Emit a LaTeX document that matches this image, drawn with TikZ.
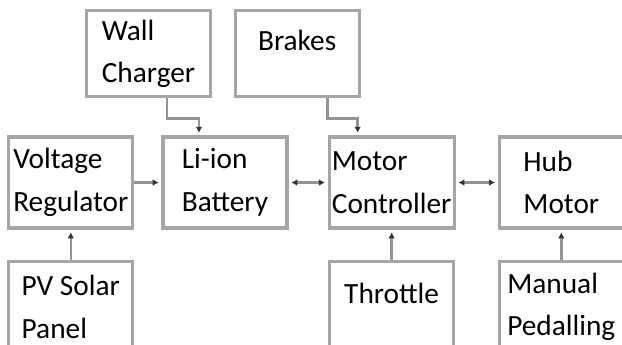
\documentclass[tikz,border=0pt]{standalone}
\usepackage{fontspec}
\setmainfont{Carlito}
\usetikzlibrary{arrows.meta, positioning}

\begin{document}
\begin{tikzpicture}[
  node distance=22.5pt and 29.25pt,
  box/.style={rectangle, draw=black!35, line width=2.4pt, fill=white,
             minimum width=93pt, minimum height=68.25pt, align=left,
             inner sep=2pt, font=\fontsize{22}{32}\selectfont},
  topbox/.style={box, minimum height=64.5pt},
  arrow/.style={-{Latex[length=4.5pt, width=5pt, color=black!80]},
               line width=1.9pt, color=black!42, shorten >=2pt},
  dblarrow/.style={arrow, {Latex[length=4.5pt, width=5pt, color=black!80]}-{Latex[length=4.5pt, width=5pt, color=black!80]},
                  shorten <=2pt}
]
\useasboundingbox (0,0) rectangle (466.5pt,-258pt);

\node[box] (battery) at (168.75pt,-136.9pt) {Li-ion\\Battery};
\node[box, left=20.25pt of battery] (regulator) {Voltage\\Regulator};
\node[box, right=of battery] (controller) {Motor\\Controller};
\node[box, right=31.5pt of controller] (hub) {Hub\\Motor};
\node[box, below=of regulator] (solar) {PV Solar\\Panel};
\node[box, below=of controller, text depth=20pt] (throttle) {Throttle};
\node[box, below=of hub] (pedal) {Manual\\Pedalling};
\node[topbox, above=27.75pt of battery, xshift=-57.4pt] (charger) {Wall\\Charger};
\node[topbox, above=27.75pt of controller, xshift=-70.9pt, text depth=20pt] (brakes) {Brakes};

\draw[arrow] ([xshift=13.9pt]charger.south) -- ++(0,-15pt) -| ([xshift=-19.5pt]battery.north);
\draw[arrow] ([xshift=22.9pt]brakes.south) -- ++(0,-15pt) -| ([xshift=-25.5pt]controller.north);
\draw[arrow] (regulator) -- (battery);
\draw[dblarrow] (battery) -- (controller);
\draw[dblarrow] (controller) -- (hub);
\draw[arrow] (solar) -- (regulator);
\draw[arrow] (throttle.north) -- (controller.south);
\draw[arrow] (pedal) -- (hub);

\end{tikzpicture}
\end{document}
